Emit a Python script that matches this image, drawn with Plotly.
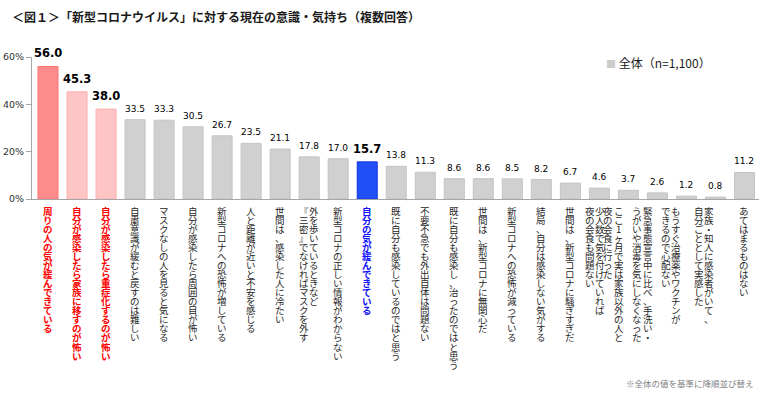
import plotly.graph_objects as go

# ---------------- data ----------------
categories = [
    "周りの人の気が緩んできている",
    "自分が感染したら家族に移すのが怖い",
    "自分が感染したら重症化するのが怖い",
    "自粛意識が緩むと戻すのは難しい",
    "マスクなしの人を見ると気になる",
    "自分が感染したら周囲の目が怖い",
    "新型コロナへの恐怖が増している",
    "人と距離が近いと不安を感じる",
    "世間は、感染した人に冷たい",
    "外を歩いているときなど\n『三密』でなければマスクを外す",
    "新型コロナの正しい情報がわからない",
    "自分の気が緩んできている",
    "既に自分も感染しているのではと思う",
    "不要不急でも外出自体は問題ない",
    "既に自分も感染し、治ったのではと思う",
    "世間は、新型コロナに無関心だ",
    "新型コロナへの恐怖が減っている",
    "結局、自分は感染しない気がする",
    "世間は、新型コロナに騒ぎすぎだ",
    "少人数で気を付けていれば\n夜の会食も問題ない",
    "ここ1ヶ月で実は家族以外の人と\n夜の会食に行った",
    "緊急事態宣言中に比べ、手洗い・\nうがいや消毒を気にしなくなった",
    "もうすぐ治療薬やワクチンが\nできるので心配ない",
    "家族・知人に感染者がいて、\n自分ごととして実感した",
    "あてはまるものはない",
]
values = [56.0, 45.3, 38.0, 33.5, 33.3, 30.5, 26.7, 23.5, 21.1, 17.8, 17.0, 15.7,
          13.8, 11.3, 8.6, 8.6, 8.5, 8.2, 6.7, 4.6, 3.7, 2.6, 1.2, 0.8, 11.2]
y_ticks = [0, 20, 40, 60]
y_tick_labels = ["0%", "20%", "40%", "60%"]
legend_label = "全体（n=1,100）"
title_text = "＜図１＞「新型コロナウイルス」に対する現在の意識・気持ち（複数回答）"
note_text = "※全体の値を基準に降順並び替え"

# ---------------- styles ----------------
highlight = {0: "top", 1: "pink", 2: "pink", 11: "blue"}
fill = {"top": "#ff8c8c", "pink": "#ffc4c4", "blue": "#2050f5", None: "#d0d0d0"}
edge = {"top": "#ff7070", "pink": "#ffb0b0", "blue": "#1038e0", None: "#c4c4c4"}
label_color = {"top": "#ff0000", "pink": "#ff0000", "blue": "#1010ff", None: "#262626"}
# horizontal shift (px) of the label column group, as laid out in the original
label_group_shift = {19: -4.5, 20: -15, 21: -15, 22: -15.5, 23: -11.5}

kinds = [highlight.get(i) for i in range(len(values))]
bar_colors = [fill[k] for k in kinds]
bar_lines = [edge[k] for k in kinds]

fig = go.Figure()
fig.add_trace(go.Bar(
    x=categories, y=values,
    marker=dict(color=bar_colors, line=dict(color=bar_lines, width=1)),
    showlegend=False, hoverinfo="skip",
))

annotations = []
CJK = "Noto Sans CJK JP"
NUM = "DejaVu Sans"

# value labels
for i, (c, v) in enumerate(zip(categories, values)):
    bold = i < 3 or i == 11
    annotations.append(dict(
        x=c, y=v, xref="x", yref="y", yanchor="bottom", xanchor="center",
        text=(f"<b>{v:.1f}</b>" if bold else f"{v:.1f}"),
        showarrow=False, yshift=4,
        font=dict(family=NUM, size=11.5 if bold else 9, color="#000000"),
    ))

# vertical (stacked) category labels: one annotation per column,
# small base size sets the line pitch, glyphs drawn at a larger size
BASE = 6.95      # 1.3 * BASE = line pitch (~9 px)
GLYPH = 9.5
COLGAP = 10.5
for i, c in enumerate(categories):
    cols = c.split("\n")
    n = len(cols)
    shift0 = label_group_shift.get(i, 0)
    kind = kinds[i]
    bold = kind is not None
    for j, col in enumerate(cols):
        xoff = shift0 + ((n - 1) / 2 - j) * COLGAP   # first column on the right
        chars = [f"<span style='font-size:{GLYPH}px'>{ch}</span>" for ch in col]
        txt = "<br>".join(chars)
        if bold:
            txt = f"<b>{txt}</b>"
        annotations.append(dict(
            x=c, y=0, xref="x", yref="y", xanchor="center", yanchor="top",
            text=txt, showarrow=False, xshift=xoff, yshift=-4,
            font=dict(family=CJK, size=BASE, color=label_color[kind]),
            borderpad=0, align="center",
        ))

# title
annotations.append(dict(
    x=10, y=17, xref="paper", yref="paper", text=f"<b>{title_text}</b>",
    showarrow=False, xanchor="left", yanchor="middle",
    font=dict(family=CJK, size=12, color="#1a1a1a"),
))
# legend
annotations.append(dict(
    x=604, y=63, xref="paper", yref="paper",
    text=f"<span style='color:#cccccc;font-size:10px'>■</span> {legend_label}",
    showarrow=False, xanchor="left", yanchor="middle",
    font=dict(family=CJK, size=12, color="#1a1a1a"),
))
# note
annotations.append(dict(
    x=756, y=383, xref="paper", yref="paper", text=note_text,
    showarrow=False, xanchor="right", yanchor="middle",
    font=dict(family=CJK, size=8.5, color="#7f7f7f"),
))

W, H = 760, 399
ML, MR, MT, MB = 32, 1, 57, 200
pw, ph = W - ML - MR, H - MT - MB
for a in annotations:
    if a["xref"] == "paper":
        a["x"] = (a["x"] - ML) / pw
        a["y"] = 1 - (a["y"] - MT) / ph

fig.update_layout(
    width=W, height=H,
    margin=dict(l=ML, r=MR, t=MT, b=MB, autoexpand=False),
    paper_bgcolor="white", plot_bgcolor="white",
    bargap=0.31,
    xaxis=dict(showticklabels=False, showline=True, linecolor="#a6a6a6", linewidth=1,
               ticks="", showgrid=False, zeroline=False, fixedrange=True),
    yaxis=dict(range=[0, 60], tickvals=y_ticks, ticktext=y_tick_labels,
               showline=True, linecolor="#a6a6a6", linewidth=1,
               ticks="outside", ticklen=5, tickcolor="#a6a6a6",
               showgrid=False, zeroline=False, fixedrange=True,
               tickfont=dict(family=NUM, size=9.5, color="#333333")),
    annotations=annotations,
    showlegend=False,
)

fig.write_html("out.html", config={"displayModeBar": False, "staticPlot": True},
               post_script="document.body.style.margin='0';")
